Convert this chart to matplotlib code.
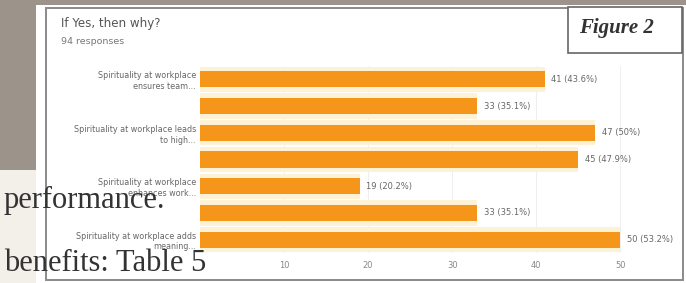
import matplotlib.pyplot as plt
from matplotlib.patches import Rectangle

# survey answers, 94 responses
labels = [
    "Spirituality at workplace\nensures team...",
    "",
    "Spirituality at workplace leads\nto high...",
    "",
    "Spirituality at workplace\nenhances work...",
    "",
    "Spirituality at workplace adds\nmeaning...",
]
counts = [41, 33, 47, 45, 19, 33, 50]
pcts = ["43.6%", "35.1%", "50%", "47.9%", "20.2%", "35.1%", "53.2%"]
ticks = [10, 20, 30, 40, 50]

W, H = 686, 283
BAR = "#f5961a"

fig = plt.figure(figsize=(W / 100, H / 100), dpi=100)
fig.patch.set_facecolor("white")


def px(x, y, w, h):
    """pixel box (top-left origin) -> figure fraction rect"""
    return [x / W, 1 - (y + h) / H, w / W, h / H]


def box(x, y, w, h, **kw):
    fig.add_artist(Rectangle((x / W, 1 - (y + h) / H), w / W, h / H,
                             transform=fig.transFigure, zorder=-5, **kw))


# page background around the pasted figure
box(0, 0, W, 5, color="#9c938a", lw=0)
box(0, 0, 36, 170, color="#9c938a", lw=0)
box(0, 170, 36, H - 170, color="#f3efe9", lw=0)
# chart frame
box(46, 8, 637, 272, facecolor="white", edgecolor="#8a8a8a", lw=1.4)

fig.text(61 / W, 1 - 24 / H, "If Yes, then why?", fontsize=8.6, color="#555", va="center")
fig.text(61 / W, 1 - 41 / H, "94 responses", fontsize=6.8, color="#777", va="center")

# "Figure 2" tag
box(568, 7, 114, 46, facecolor="white", edgecolor="#666", lw=1.2)
fig.text(616 / W, 1 - 28 / H, "Figure 2", fontsize=15, style="italic", weight="bold",
         family="Liberation Serif", color="#333", ha="center", va="center")

ax = fig.add_axes(px(200, 66, 464, 187))
ax.set_facecolor("none")
ax.set_zorder(2)
y = list(range(len(counts)))
ax.barh(y, counts, height=0.95, color="#fdf2d6", zorder=2)
ax.barh(y, counts, height=0.6, color=BAR, zorder=3)
for yi, c, p in zip(y, counts, pcts):
    ax.text(c + 0.8, yi, f"{c} ({p})", fontsize=6, color="#666", va="center")

ax.set_xlim(0, 55.2)
ax.set_ylim(6.5, -0.5)
ax.set_xticks(ticks)
ax.set_xticklabels([str(t) for t in ticks], fontsize=6, color="#888")
ax.set_yticks(y)
ax.set_yticklabels(labels, fontsize=5.8, color="#666", linespacing=1.25)
ax.tick_params(length=0, pad=3)
ax.tick_params(axis="x", pad=6)
ax.grid(axis="x", color="#ececec", lw=0.6, zorder=0)
for s in ax.spines.values():
    s.set_visible(False)

# surrounding article text overlapping the screenshot
fig.text(4 / W, 1 - 208 / H, "performance.", fontsize=22, family="Liberation Serif",
         color="#333", va="baseline", zorder=10)
fig.text(4 / W, 1 - 271 / H, "benefits: Table 5", fontsize=22, family="Liberation Serif",
         color="#333", va="baseline", zorder=10)

fig.savefig("out.png", dpi=100)
